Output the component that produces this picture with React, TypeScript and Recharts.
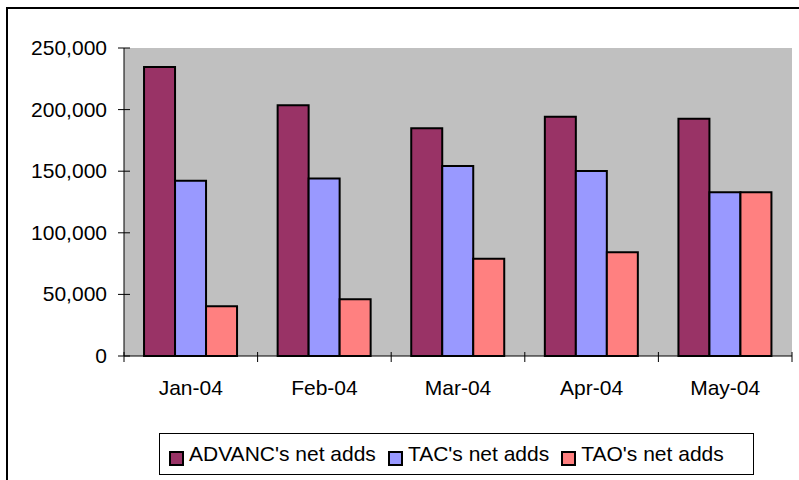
import React from 'react';
import { BarChart, Bar, XAxis, YAxis, CartesianGrid } from 'recharts';

const months = ['Jan-04', 'Feb-04', 'Mar-04', 'Apr-04', 'May-04'];
const advancAdds = [234500, 203600, 184900, 194100, 192500];
const tacAdds = [142300, 144000, 154300, 150200, 132900];
const taoAdds = [40400, 46100, 78900, 84300, 132900];
const yTicks = [0, 50000, 100000, 150000, 200000, 250000];

const seriesInfo = [
  { key: 'advanc', name: "ADVANC's net adds", color: '#993366' },
  { key: 'tac', name: "TAC's net adds", color: '#9999FF' },
  { key: 'tao', name: "TAO's net adds", color: '#FF8080' },
];

const data = months.map((m, i) => ({
  month: m,
  advanc: advancAdds[i],
  tac: tacAdds[i],
  tao: taoAdds[i],
}));

const FONT = 'Arial, "Liberation Sans", sans-serif';
const CHART_W = 799;
const CHART_H = 480;
const MARGIN = { top: 48, right: 7, left: 0, bottom: 94 };
const Y_W = 124;
const plotW = CHART_W - MARGIN.left - MARGIN.right - Y_W;
const halfBand = plotW / months.length / 2;

const fmt = (v: number) => v.toLocaleString('en-US');

const YTick = (props: any) => {
  const { x, y, payload } = props;
  return (
    <g>
      <line x1={x - 6} x2={x + 6} y1={y} y2={y} stroke="#000" strokeWidth={1} />
      <text x={x - 17} y={y + 7} textAnchor="end" fontSize={21} fontFamily={FONT} fill="#000">
        {fmt(payload.value)}
      </text>
    </g>
  );
};

const XTick = (props: any) => {
  const { x, y, payload, index } = props;
  const last = index === months.length - 1;
  return (
    <g>
      <line x1={x - halfBand} x2={x - halfBand} y1={y - 4} y2={y + 6} stroke="#000" strokeWidth={1} />
      {last && <line x1={x + halfBand} x2={x + halfBand} y1={y - 4} y2={y + 6} stroke="#000" strokeWidth={1} />}
      <text x={x} y={y + 39} textAnchor="middle" fontSize={21} fontFamily={FONT} fill="#000">
        {payload.value}
      </text>
    </g>
  );
};

export default function App() {
  return (
    <div style={{ position: 'fixed', left: 0, top: 0, width: CHART_W, height: CHART_H, background: '#fff', overflow: 'hidden' }}>
      <BarChart
        width={CHART_W}
        height={CHART_H}
        data={data}
        margin={MARGIN}
        barCategoryGap="15%"
        barGap={0}
        style={{ position: 'absolute', left: 0, top: 0 }}
      >
        <CartesianGrid horizontal={false} vertical={false} fill="#C0C0C0" />
        <XAxis xAxisId="top" orientation="top" dataKey="month" height={0} tick={false} tickLine={false} axisLine={{ stroke: '#808080', strokeWidth: 2 }} />
        <YAxis yAxisId="right" orientation="right" width={0} domain={[0, 250000]} tick={false} tickLine={false} axisLine={{ stroke: '#808080', strokeWidth: 2 }} />
        <XAxis dataKey="month" height={30} tickSize={0} tickMargin={0} tickLine={false} tick={<XTick />} axisLine={{ stroke: '#000', strokeWidth: 1 }} interval={0} />
        <YAxis width={Y_W} domain={[0, 250000]} ticks={yTicks} tickSize={0} tickMargin={0} tickLine={false} tick={<YTick />} axisLine={{ stroke: '#000', strokeWidth: 1 }} interval={0} />
        {seriesInfo.map(s => (
          <Bar key={s.key} dataKey={s.key} name={s.name} fill={s.color} stroke="#000" strokeWidth={2} isAnimationActive={false} />
        ))}
      </BarChart>
      <div style={{ position: 'absolute', left: 159, top: 433, width: 595, height: 42, border: '1px solid #000', boxSizing: 'border-box', display: 'flex', alignItems: 'center', paddingLeft: 9, fontFamily: FONT, fontSize: 21, color: '#000', background: '#fff' }}>
        {seriesInfo.map(s => (
          <div key={s.key} style={{ display: 'flex', alignItems: 'center', marginRight: 12 }}>
            <span style={{ display: 'inline-block', width: 15, height: 15, background: s.color, border: '2px solid #000', boxSizing: 'border-box', marginRight: 5, marginTop: 8 }} />
            <span style={{ whiteSpace: 'nowrap' }}>{s.name}</span>
          </div>
        ))}
      </div>
      <div style={{ position: 'absolute', left: 6, top: 7, width: 900, height: 600, borderLeft: '2px solid #000', borderTop: '2px solid #000', pointerEvents: 'none', zIndex: 5 }} />
    </div>
  );
}
